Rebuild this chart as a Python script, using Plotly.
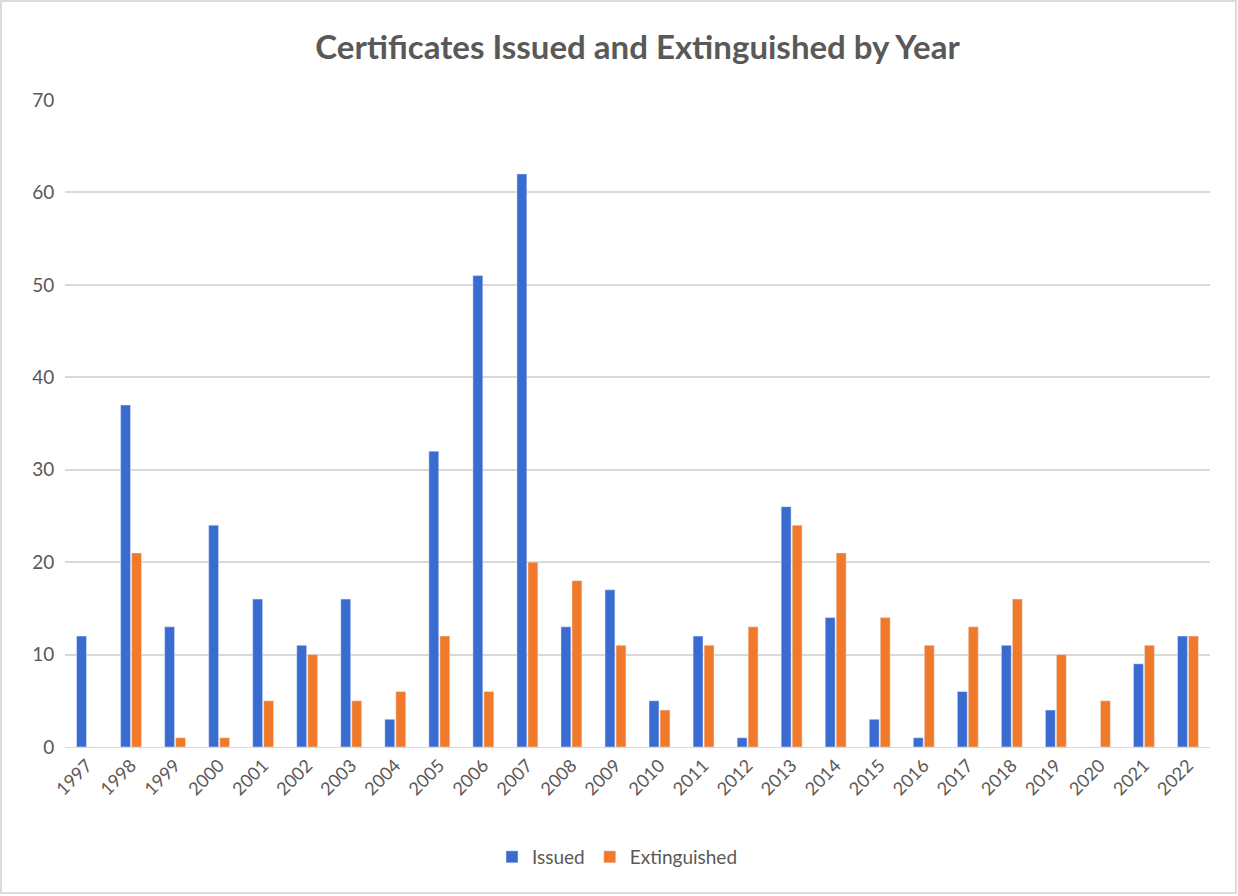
import plotly.graph_objects as go

years = [str(y) for y in range(1997, 2023)]
issued = [12, 37, 13, 24, 16, 11, 16, 3, 32, 51, 62, 13, 17, 5, 12, 1, 26, 14, 3, 1, 6, 11, 4, 0, 9, 12]
extinguished = [0, 21, 1, 1, 5, 10, 5, 6, 12, 6, 20, 18, 11, 4, 11, 13, 24, 21, 14, 11, 13, 16, 10, 5, 11, 12]

W, H = 1238, 896
ml, mr, mt, mb = 65, 28, 100, 149

fig = go.Figure()
fig.add_trace(go.Bar(x=years, y=issued, name="Issued", marker_color="#3a6bd1"))
fig.add_trace(go.Bar(x=years, y=extinguished, name="Extinguished", marker_color="#f07a2a"))

pw = W - ml - mr
ph = H - mt - mb
fig.add_shape(type="rect", xref="paper", yref="paper",
              x0=(1 - ml) / pw, x1=(W - 2 - ml) / pw,
              y0=-(H - 3 - mt - ph) / ph, y1=1 + (mt - 1) / ph,
              line=dict(color="#d0d0d0", width=1.5), fillcolor="rgba(0,0,0,0)", layer="below")

fig.update_layout(
    width=W, height=H,
    margin=dict(l=ml, r=mr, t=mt, b=mb),
    paper_bgcolor="white", plot_bgcolor="white",
    font=dict(family="Lato, Open Sans, sans-serif", color="#595959"),
    title=dict(text="<b>Certificates Issued and Extinguished by Year</b>",
               x=0.5, xref="paper", xanchor="center", y=1 - 47 / H, yanchor="middle",
               font=dict(size=33, color="#595959", family="Lato, Open Sans, sans-serif")),
    barmode="group", bargap=0.5, bargroupgap=0.1,
    xaxis=dict(tickangle=-45, tickfont=dict(size=18, color="#595959"),
               showgrid=False, showline=True, linecolor="#d9d9d9", linewidth=1,
               ticks=""),
    yaxis=dict(range=[0, 70], dtick=10, tickfont=dict(size=19, color="#595959"),
               gridcolor="#d9d9d9", gridwidth=1.5, zeroline=False, showline=False,
               ticks="outside", ticklen=6, tickcolor="white"),
    legend=dict(orientation="h", x=0.5 - 20 / pw, xanchor="center", y=-(857 - 747) / ph, yanchor="middle",
                font=dict(size=19, color="#595959"), itemwidth=30, traceorder="normal"),
    showlegend=True,
)

fig.write_html("out.html")
